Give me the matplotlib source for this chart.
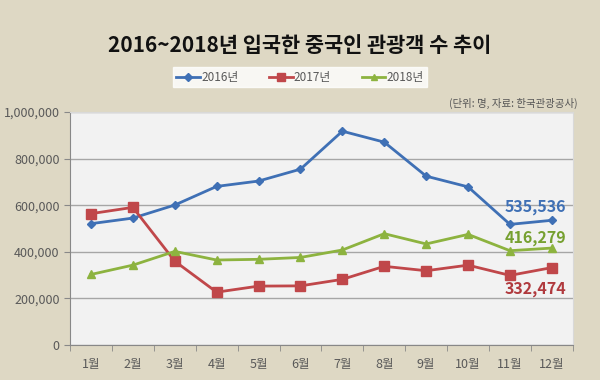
import matplotlib
matplotlib.use("Agg")
import matplotlib.pyplot as plt

plt.rcParams['font.family'] = ['Noto Sans CJK KR', 'DejaVu Sans']

months = ['1월', '2월', '3월', '4월', '5월', '6월', '7월', '8월', '9월', '10월', '11월', '12월']
y2016 = [521000, 545000, 601000, 681000, 704000, 755000, 918000, 871000, 725000, 679000, 518000, 535536]
y2017 = [564000, 591000, 360000, 227000, 253000, 254000, 282000, 338000, 319000, 343000, 299000, 332474]
y2018 = [303000, 343000, 402000, 365000, 368000, 376000, 408000, 478000, 434000, 475000, 405000, 416279]

bg = '#DED8C4'
c16, c17, c18 = '#3F70B5', '#C0474A', '#8DB33F'

fig = plt.figure(figsize=(6, 3.8), dpi=100, facecolor=bg)
ax = fig.add_axes([0.1167, 0.092, 0.838, 0.613])
ax.set_facecolor('#F2F2F2')

x = list(range(len(months)))
l1, = ax.plot(x, y2016, color=c16, lw=2, marker='D', ms=4.5, label='2016년')
l2, = ax.plot(x, y2017, color=c17, lw=2, marker='s', ms=6.5, label='2017년')
l3, = ax.plot(x, y2018, color=c18, lw=2, marker='^', ms=6, label='2018년')

ax.set_xlim(-0.5, 11.5)
ax.set_ylim(0, 1000000)
ax.set_yticks(range(0, 1000001, 200000))
ax.set_yticklabels([f'{v:,}' for v in range(0, 1000001, 200000)])
ax.set_xticks(x)
ax.set_xticklabels(months)
ax.set_xticks([i - 0.5 for i in range(13)], minor=True)
ax.tick_params(axis='x', which='major', length=0, pad=9, labelsize=9, colors='#595959')
ax.tick_params(axis='x', which='minor', length=4, color='#888888')
ax.tick_params(axis='y', length=4, color='#888888', labelsize=9, labelcolor='#595959')
ax.grid(axis='y', color='#A6A6A6', lw=1)
ax.set_axisbelow(True)
for s in ['top', 'right']:
    ax.spines[s].set_color('#D9D9D9')
for s in ['left', 'bottom']:
    ax.spines[s].set_color('#888888')

lab = dict(fontsize=11.5, fontweight='bold', ha='right', va='center')
ax.text(11.35, y2016[-1] + 57000, f'{y2016[-1]:,}', color=c16, **lab)
ax.text(11.35, y2018[-1] + 43000, f'{y2018[-1]:,}', color='#76A030', **lab)
ax.text(11.35, y2017[-1] - 92000, f'{y2017[-1]:,}', color='#B03A3E', **lab)

fig.text(0.5, 0.88, '2016~2018년 입국한 중국인 관광객 수 추이', ha='center', va='center',
         fontsize=15, fontweight='bold', color='#111111')
fig.text(0.963, 0.728, '(단위: 명, 자료: 한국관광공사)', ha='right', va='center', fontsize=7.5, color='#555555')

leg = fig.legend(handles=[l1, l2, l3], loc='center', bbox_to_anchor=(0.5, 0.797), ncol=3,
                 frameon=True, fancybox=False, fontsize=8.5, handlelength=2.0, columnspacing=2.6,
                 borderpad=0.3, handletextpad=0.1, markerscale=0.8)
leg.get_frame().set_facecolor('white')
leg.get_frame().set_edgecolor('white')
for t in leg.get_texts():
    t.set_color('#595959')

fig.savefig('out.png', dpi=100, facecolor=bg)
